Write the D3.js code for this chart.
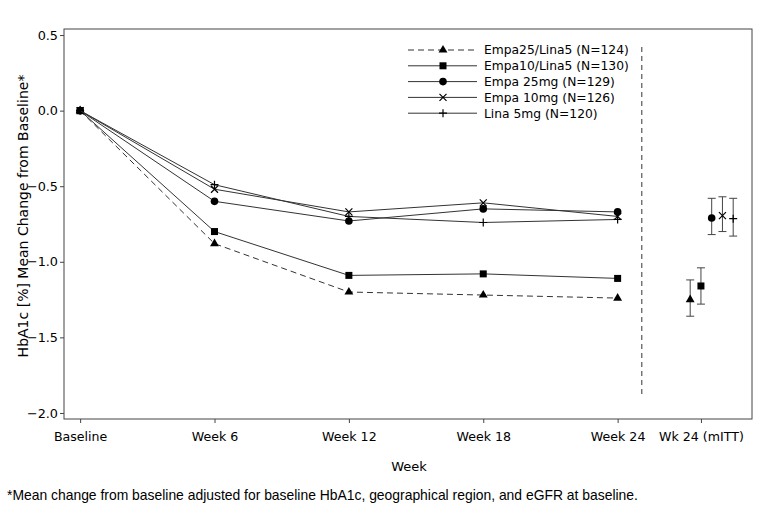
<!DOCTYPE html>
<html>
<head>
<meta charset="utf-8">
<script src="https://cdn.jsdelivr.net/npm/d3@7"></script>
<style>
  body { margin: 0; background: #fff; }
  text { fill: #000; }
</style>
</head>
<body>
<div id="chart"></div>
<script>
// visit labels and x positions (index units; mITT column sits after the dashed divider)
const visits = ["Baseline", "Week 6", "Week 12", "Week 18", "Week 24"];
const mittLabel = "Wk 24 (mITT)";
const mittPos = 4.62;
const dividerPos = 4.18;

const seriesNames = ["Empa25/Lina5 (N=124)", "Empa10/Lina5 (N=130)", "Empa 25mg (N=129)", "Empa 10mg (N=126)", "Lina 5mg (N=120)"];
const seriesSymbols = ["triangle", "square", "circle", "cross", "plus"];
const seriesDashed = [true, false, false, false, false];

// mean change per visit
const empa25lina5 = [0, -0.88, -1.20, -1.22, -1.24];
const empa10lina5 = [0, -0.80, -1.09, -1.08, -1.11];
const empa25 = [0, -0.60, -0.73, -0.65, -0.67];
const empa10 = [0, -0.52, -0.67, -0.61, -0.70];
const lina5 = [0, -0.49, -0.70, -0.74, -0.72];
const seriesValues = [empa25lina5, empa10lina5, empa25, empa10, lina5];

// Week 24 mITT estimates with CI
const mittMean = [-1.25, -1.16, -0.71, -0.695, -0.715];
const mittLow = [-1.36, -1.28, -0.82, -0.80, -0.83];
const mittHigh = [-1.12, -1.04, -0.58, -0.57, -0.58];
const mittOffset = [-0.08, 0.0, 0.08, 0.16, 0.24];

const yTicks = [0.5, 0.0, -0.5, -1.0, -1.5, -2.0];

const W = 778, H = 514;
const margin = {left: 64, right: 26, top: 29, bottom: 95};
const sans = "\"DejaVu Sans\", Verdana, sans-serif";

const svg = d3.select("#chart").append("svg")
    .attr("width", W).attr("height", H)
    .style("font-family", sans);

const x = d3.scaleLinear()
    .domain([-0.12, 5.0])
    .range([margin.left, W - margin.right]);

const y = d3.scaleLinear()
    .domain([-2.04, 0.54])
    .range([H - margin.bottom, margin.top]);

const stroke = "#333";

// frame
svg.append("rect")
    .attr("x", margin.left).attr("y", margin.top)
    .attr("width", W - margin.left - margin.right)
    .attr("height", H - margin.top - margin.bottom)
    .attr("fill", "none").attr("stroke", "#444").attr("stroke-width", 1);

// y axis
const yAxis = d3.axisLeft(y).tickValues(yTicks).tickFormat(d3.format(".1f")).tickSize(4);
const yG = svg.append("g").attr("transform", "translate(" + margin.left + ",0)").call(yAxis);
yG.select(".domain").remove();
yG.selectAll("line").attr("stroke", "#444");
yG.selectAll("text").style("font-size", "12.8px").style("font-family", sans).attr("dx", "1px");

// x axis
const xAxis = d3.axisBottom(x)
    .tickValues([0, 1, 2, 3, 4, mittPos])
    .tickFormat((d, i) => i < visits.length ? visits[i] : mittLabel)
    .tickSize(4);
const xG = svg.append("g").attr("transform", "translate(0," + (H - margin.bottom) + ")").call(xAxis);
xG.select(".domain").remove();
xG.selectAll("line").attr("stroke", "#444");
xG.selectAll("text").style("font-size", "12.6px").style("font-family", sans).attr("dy", "1.2em");

// axis titles
svg.append("text")
    .attr("x", (margin.left + W - margin.right) / 2 + 1).attr("y", 471)
    .attr("text-anchor", "middle").style("font-size", "13px")
    .text("Week");

svg.append("text")
    .attr("transform", "translate(28,216) rotate(-90)")
    .attr("text-anchor", "middle").style("font-size", "14px")
    .text("HbA1c [%] Mean Change from Baseline*");

svg.append("text")
    .attr("x", 7).attr("y", 500)
    .style("font-size", "13.9px")
    .style("font-family", "\"Liberation Sans\", Arial, sans-serif")
    .text("*Mean change from baseline adjusted for baseline HbA1c, geographical region, and eGFR at baseline.");

// divider
svg.append("line")
    .attr("x1", x(dividerPos)).attr("x2", x(dividerPos))
    .attr("y1", 47).attr("y2", 398)
    .attr("stroke", "#333").attr("stroke-dasharray", "5,4");

function drawSymbol(g, type, cx, cy) {
    if (type === "triangle") {
        g.append("path").attr("d", d3.symbol(d3.symbolTriangle, 34)())
            .attr("transform", "translate(" + cx + "," + cy + ")").attr("fill", "#000");
    } else if (type === "square") {
        g.append("rect").attr("x", cx - 3.5).attr("y", cy - 3.5).attr("width", 7).attr("height", 7).attr("fill", "#000");
    } else if (type === "circle") {
        g.append("circle").attr("cx", cx).attr("cy", cy).attr("r", 3.8).attr("fill", "#000");
    } else if (type === "cross") {
        g.append("path").attr("d", "M-3.5,-3.5L3.5,3.5M-3.5,3.5L3.5,-3.5")
            .attr("transform", "translate(" + cx + "," + cy + ")").attr("stroke", "#000").attr("stroke-width", 1.2);
    } else if (type === "plus") {
        g.append("path").attr("d", "M-4,0L4,0M0,-4L0,4")
            .attr("transform", "translate(" + cx + "," + cy + ")").attr("stroke", "#000").attr("stroke-width", 1.2);
    }
}

const line = d3.line().x((d, i) => x(i)).y(d => y(d));

seriesValues.forEach((vals, s) => {
    const g = svg.append("g");
    g.append("path").datum(vals)
        .attr("d", line)
        .attr("fill", "none").attr("stroke", stroke).attr("stroke-width", 1)
        .attr("stroke-dasharray", seriesDashed[s] ? "6,4" : null);
    vals.forEach((v, i) => drawSymbol(g, seriesSymbols[s], x(i), y(v)));
});

// mITT estimates with error bars
mittMean.forEach((m, s) => {
    const g = svg.append("g");
    const cx = x(mittPos + mittOffset[s]);
    g.append("line").attr("x1", cx).attr("x2", cx).attr("y1", y(mittLow[s])).attr("y2", y(mittHigh[s]))
        .attr("stroke", "#444");
    [mittLow[s], mittHigh[s]].forEach(v => {
        g.append("line").attr("x1", cx - 4).attr("x2", cx + 4).attr("y1", y(v)).attr("y2", y(v))
            .attr("stroke", "#444");
    });
    drawSymbol(g, seriesSymbols[s], cx, y(m));
});

// legend
const legend = svg.append("g").attr("transform", "translate(408,50)");
seriesNames.forEach((name, s) => {
    const row = legend.append("g").attr("transform", "translate(0," + (s * 15.8) + ")");
    row.append("line").attr("x1", 0).attr("x2", 69).attr("y1", 0).attr("y2", 0)
        .attr("stroke", stroke).attr("stroke-dasharray", seriesDashed[s] ? "6,4" : null);
    drawSymbol(row, seriesSymbols[s], 35, 0);
    row.append("text").attr("x", 76).attr("y", 0).attr("dy", "0.35em")
        .style("font-size", "12.3px").text(name);
});
</script>
</body>
</html>
